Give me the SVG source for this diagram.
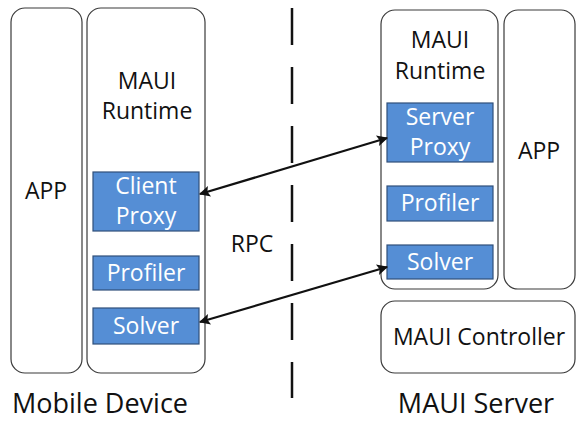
<svg xmlns="http://www.w3.org/2000/svg" width="576" height="421" viewBox="0 0 576 421">
  <style>
    .box { fill: #ffffff; stroke: #3a3a3a; stroke-width: 1.2; }
    .mod { fill: #558ed5; stroke: #2f4f7a; stroke-width: 1.2; }
    .t { font-family: "Open Sans", "Liberation Sans", sans-serif; font-size: 23px; fill: #111111; text-anchor: middle; }
    .w { fill: #ffffff; }
    .big { font-size: 27px; }
    .link { stroke: #111111; stroke-width: 2.2; fill: none; marker-start: url(#head); marker-end: url(#head); }
  </style>
  <defs>
    <marker id="head" viewBox="0 0 10 10" refX="9" refY="5" markerWidth="6.5" markerHeight="5" orient="auto-start-reverse" markerUnits="strokeWidth">
      <path d="M0,0 L10,5 L0,10 L2,5 Z" fill="#111111"/>
    </marker>
  </defs>

  <!-- Mobile device side -->
  <g id="mobile-app">
    <rect class="box" x="11" y="8" width="71" height="365" rx="14"/>
    <text class="t" x="46" y="199">APP</text>
  </g>
  <g id="mobile-runtime">
    <rect class="box" x="87" y="8" width="118" height="365" rx="14"/>
    <text class="t" x="147" y="89">MAUI</text>
    <text class="t" x="147" y="119">Runtime</text>
  </g>
  <g id="client-proxy">
    <rect class="mod" x="93" y="172" width="106" height="59"/>
    <text class="t w" x="146" y="194">Client</text>
    <text class="t w" x="146" y="224">Proxy</text>
  </g>
  <g id="mobile-profiler">
    <rect class="mod" x="93" y="256" width="106" height="34"/>
    <text class="t w" x="146" y="281">Profiler</text>
  </g>
  <g id="mobile-solver">
    <rect class="mod" x="93" y="308" width="106" height="36"/>
    <text class="t w" x="146" y="334">Solver</text>
  </g>

  <!-- Server side -->
  <g id="server-runtime">
    <rect class="box" x="381" y="10" width="117" height="279" rx="14"/>
    <text class="t" x="440" y="48">MAUI</text>
    <text class="t" x="440" y="79">Runtime</text>
  </g>
  <g id="server-proxy">
    <rect class="mod" x="387" y="103" width="106" height="59"/>
    <text class="t w" x="440" y="125">Server</text>
    <text class="t w" x="440" y="155">Proxy</text>
  </g>
  <g id="server-profiler">
    <rect class="mod" x="387" y="186" width="106" height="35"/>
    <text class="t w" x="440" y="211">Profiler</text>
  </g>
  <g id="server-solver">
    <rect class="mod" x="387" y="245" width="106" height="34"/>
    <text class="t w" x="440" y="270">Solver</text>
  </g>
  <g id="server-app">
    <rect class="box" x="504" y="10" width="71" height="279" rx="14"/>
    <text class="t" x="539" y="159">APP</text>
  </g>
  <g id="maui-controller">
    <rect class="box" x="381" y="301" width="194" height="72" rx="14"/>
    <text class="t" x="479" y="345">MAUI Controller</text>
  </g>

  <!-- Network boundary -->
  <g id="boundary">
    <line x1="292" y1="8" x2="292" y2="398" stroke="#111111" stroke-width="2.5" stroke-dasharray="37 22"/>
    <text class="t" x="252" y="252">RPC</text>
  </g>

  <!-- RPC links -->
  <g id="connectors">
    <line class="link" x1="200" y1="194" x2="387" y2="138"/>
    <line class="link" x1="200" y1="322" x2="387" y2="267"/>
  </g>

  <!-- Side captions -->
  <g id="captions">
    <text class="t big" x="100" y="413">Mobile Device</text>
    <text class="t big" x="476" y="413">MAUI Server</text>
  </g>
</svg>
